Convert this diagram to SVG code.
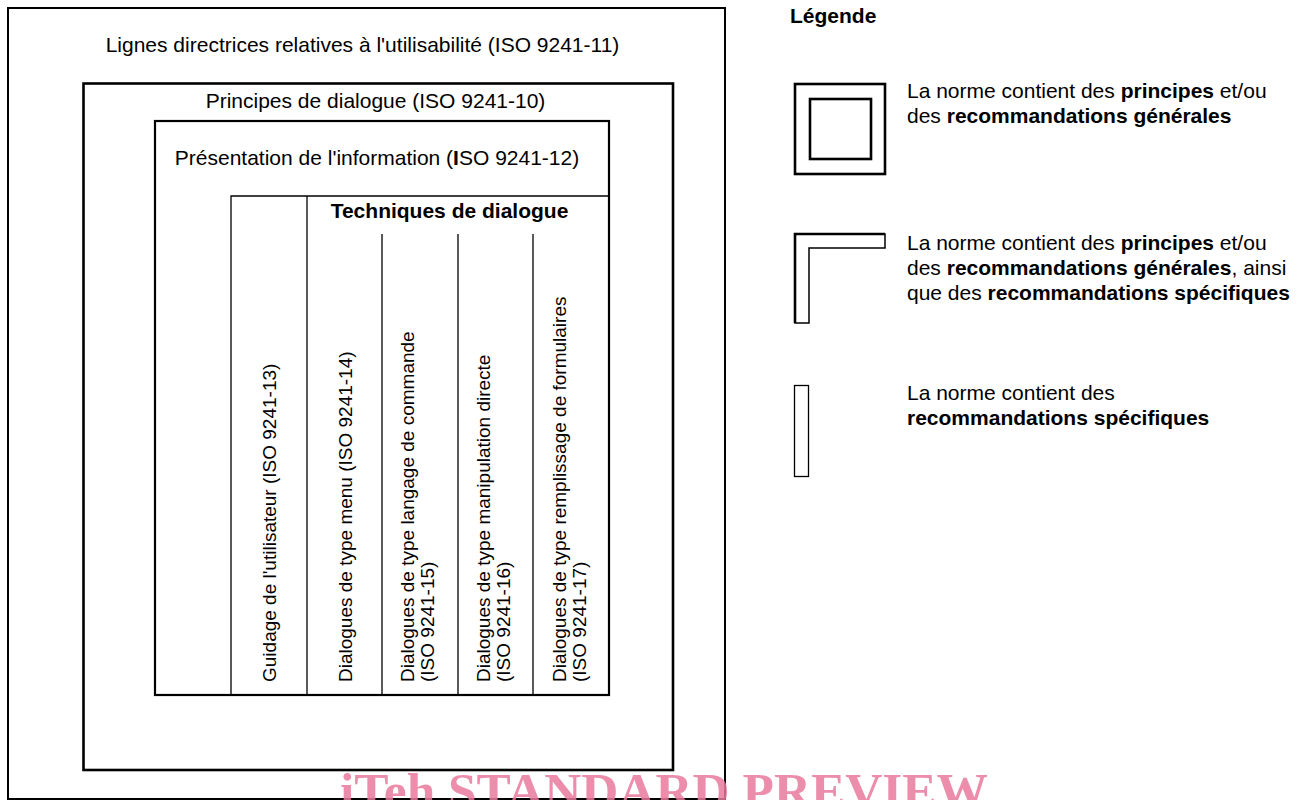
<svg xmlns="http://www.w3.org/2000/svg" width="1304" height="800" viewBox="0 0 1304 800">
  <style>
    .t { font-family: "Liberation Sans", Arial, sans-serif; font-size: 21px; fill: #000; }
    .r { font-family: "Liberation Sans", Arial, sans-serif; font-size: 19px; fill: #000; }
    .b { font-weight: bold; }
    .box { fill: none; stroke: #000; }
    .thin { stroke: #000; stroke-width: 1.3; fill: none; }
    .wm { font-family: "Liberation Serif", "Times New Roman", serif; font-weight: bold; font-size: 50px; fill: #e9799c; fill-opacity: 0.85; }
  </style>
  <rect width="1304" height="800" fill="#fff"/>

  <g id="iso-9241-11">
    <rect class="box" x="8" y="8" width="717" height="791" stroke-width="2"/>
    <text class="t" x="362.5" y="52" text-anchor="middle">Lignes directrices relatives à l'utilisabilité (ISO 9241-11)</text>
  </g>

  <g id="iso-9241-10">
    <rect class="box" x="83.5" y="83.5" width="589.5" height="686.5" stroke-width="2.6"/>
    <text class="t" x="375.5" y="108" text-anchor="middle">Principes de dialogue (ISO 9241-10)</text>
  </g>

  <g id="iso-9241-12">
    <rect class="box" x="155" y="121" width="454" height="574" stroke-width="2.2"/>
    <text class="t" x="377" y="165" text-anchor="middle">Présentation de l'information (<tspan class="b">I</tspan>SO 9241-12)</text>
  </g>

  <g id="table">
    <polyline class="thin" points="231,695 231,196 609,196"/>
    <line class="thin" x1="307" y1="196" x2="307" y2="695"/>
    <line class="thin" x1="382" y1="234" x2="382" y2="695"/>
    <line class="thin" x1="458" y1="234" x2="458" y2="695"/>
    <line class="thin" x1="533" y1="234" x2="533" y2="695"/>
  </g>

  <g id="techniques-de-dialogue">
    <text class="t b" x="449.5" y="218" text-anchor="middle">Techniques de dialogue</text>
  </g>

  <g id="iso-9241-13">
    <text class="r" transform="translate(276,682) rotate(-90)">Guidage de l'utilisateur (ISO 9241-13)</text>
  </g>
  <g id="iso-9241-14">
    <text class="r" transform="translate(352,682) rotate(-90)">Dialogues de type menu (ISO 9241-14)</text>
  </g>
  <g id="iso-9241-15">
    <text class="r" transform="translate(414,682) rotate(-90)">Dialogues de type langage de commande</text>
    <text class="r" transform="translate(434,682) rotate(-90)">(ISO 9241-15)</text>
  </g>
  <g id="iso-9241-16">
    <text class="r" transform="translate(490,682) rotate(-90)">Dialogues de type manipulation directe</text>
    <text class="r" transform="translate(510,682) rotate(-90)">(ISO 9241-16)</text>
  </g>
  <g id="iso-9241-17">
    <text class="r" transform="translate(566,682) rotate(-90)">Dialogues de type remplissage de formulaires</text>
    <text class="r" transform="translate(586,682) rotate(-90)">(ISO 9241-17)</text>
  </g>

  <g id="legend-title">
    <text class="t b" x="790" y="23">Légende</text>
  </g>

  <g id="legend-general">
    <rect class="box" x="795" y="84" width="90" height="90" stroke-width="2.6"/>
    <rect class="box" x="810" y="99" width="61" height="60" stroke-width="2.6"/>
    <text class="t" x="907" y="98">La norme contient des <tspan class="b">principes</tspan> et/ou</text>
    <text class="t" x="907" y="123">des <tspan class="b">recommandations générales</tspan></text>
  </g>

  <g id="legend-both">
    <polygon class="box" points="795,234 885,234 885,248 809,248 809,323 795,323" stroke-width="1.5"/>
    <polyline class="box" points="795,323 795,234 885,234" stroke-width="2.6"/>
    <text class="t" x="907" y="250">La norme contient des <tspan class="b">principes</tspan> et/ou</text>
    <text class="t" x="907" y="275">des <tspan class="b">recommandations générales</tspan>, ainsi</text>
    <text class="t" x="907" y="300">que des <tspan class="b">recommandations spécifiques</tspan></text>
  </g>

  <g id="legend-specific">
    <rect class="box" x="794.5" y="385.5" width="14" height="91" stroke-width="1.3"/>
    <text class="t" x="907" y="400">La norme contient des</text>
    <text class="t b" x="907" y="425">recommandations spécifiques</text>
  </g>

  <g id="watermark">
    <text class="wm" x="340" y="808" textLength="648" lengthAdjust="spacingAndGlyphs">iTeh STANDARD PREVIEW</text>
  </g>
</svg>
